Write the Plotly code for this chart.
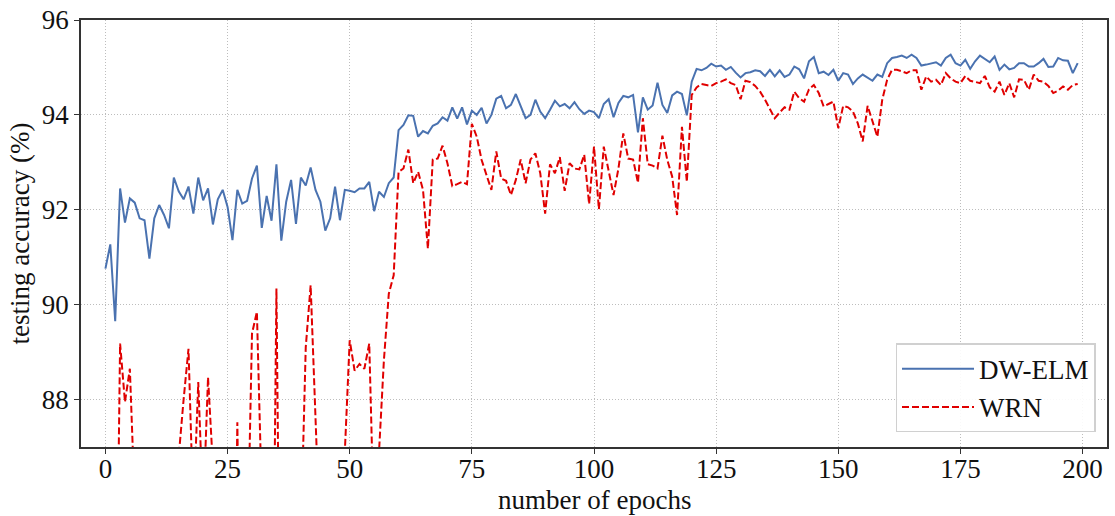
import plotly.graph_objects as go

epochs = list(range(200))

dw_elm = [
    90.76, 91.27, 89.65, 92.45, 91.73, 92.24, 92.15, 91.82, 91.78, 90.97,
    91.82, 92.10, 91.89, 91.61, 92.68, 92.39, 92.22, 92.49, 91.92, 92.68,
    92.20, 92.45, 91.69, 92.22, 92.42, 92.06, 91.36, 92.42, 92.13, 92.19,
    92.66, 92.93, 91.62, 92.29, 91.77, 92.96, 91.35, 92.17, 92.63, 91.70,
    92.68, 92.51, 92.89, 92.42, 92.17, 91.56, 91.82, 92.49, 91.78, 92.42,
    92.40, 92.37, 92.45, 92.45, 92.59, 91.97, 92.38, 92.27, 92.56, 92.68,
    93.68, 93.79, 93.99, 93.98, 93.54, 93.66, 93.61, 93.77, 93.82, 93.95,
    93.88, 94.16, 93.92, 94.16, 93.80, 94.09, 94.00, 94.15, 93.82, 94.00,
    94.34, 94.40, 94.14, 94.21, 94.44, 94.19, 93.93, 94.00, 94.32, 94.07,
    93.93, 94.11, 94.30, 94.18, 94.23, 94.14, 94.27, 94.12, 94.02, 94.09,
    94.06, 93.93, 94.23, 94.33, 93.95, 94.25, 94.40, 94.37, 94.42, 93.63,
    94.37, 94.11, 94.20, 94.68, 94.21, 94.04, 94.41, 94.49, 94.44, 93.99,
    94.70, 94.97, 94.94, 94.99, 95.08, 95.02, 95.04, 94.95, 95.01, 94.89,
    94.79, 94.88, 94.90, 94.94, 94.92, 94.82, 94.95, 94.81, 94.94, 94.80,
    94.85, 95.02, 94.96, 94.77, 95.13, 95.22, 94.88, 94.91, 94.84, 94.95,
    94.72, 94.88, 94.85, 94.65, 94.77, 94.85, 94.79, 94.72, 94.85, 94.80,
    95.09, 95.20, 95.22, 95.25, 95.20, 95.27, 95.20, 95.04, 95.06, 95.08,
    95.11, 95.04, 95.20, 95.27, 95.09, 95.04, 95.16, 94.97, 95.13, 95.25,
    95.18, 95.11, 95.23, 94.95, 95.06, 94.96, 94.99, 95.09, 95.09, 95.02,
    95.02, 95.09, 95.18, 95.01, 95.02, 95.20, 95.15, 95.14, 94.88, 95.09,
]

wrn = [
    84.00, 82.00, 81.00, 89.18, 87.95, 88.65, 85.10, 83.00, 82.00, 80.00,
    81.00, 82.00, 80.00, 83.00, 84.00, 86.80, 88.00, 89.07, 85.60, 88.37,
    85.60, 88.47, 86.60, 84.00, 82.00, 83.00, 80.00, 87.52, 80.00, 84.40,
    89.39, 89.85, 82.80, 82.00, 80.00, 90.34, 80.00, 83.00, 84.00, 84.00,
    85.10, 89.10, 90.41, 86.50, 84.00, 82.00, 83.00, 83.00, 84.00, 86.90,
    89.25, 88.61, 88.75, 88.65, 89.18, 85.20, 86.90, 88.83, 90.23, 90.62,
    92.80, 92.87, 93.27, 92.56, 92.80, 92.42, 91.18, 93.06, 93.08, 93.35,
    92.98, 92.50, 92.54, 92.59, 92.54, 93.81, 93.54, 93.05, 92.73, 92.42,
    93.23, 92.66, 92.61, 92.31, 92.63, 93.06, 92.56, 93.06, 93.19, 92.77,
    91.92, 92.96, 92.77, 93.11, 92.40, 92.98, 92.87, 92.85, 93.16, 92.12,
    93.33, 92.01, 93.33, 92.80, 92.31, 92.87, 93.61, 93.08, 93.06, 92.57,
    93.93, 92.96, 92.93, 92.87, 93.56, 93.05, 92.70, 91.89, 93.75, 92.59,
    94.42, 94.58, 94.65, 94.63, 94.61, 94.67, 94.70, 94.75, 94.67, 94.63,
    94.33, 94.72, 94.69, 94.61, 94.49, 94.32, 94.11, 93.93, 94.05, 94.16,
    94.11, 94.49, 94.35, 94.28, 94.54, 94.63, 94.46, 94.18, 94.23, 94.28,
    93.72, 94.19, 94.16, 94.07, 93.82, 93.44, 94.19, 93.86, 93.54, 94.32,
    94.74, 94.95, 94.95, 94.92, 94.88, 94.94, 94.94, 94.53, 94.81, 94.70,
    94.74, 94.63, 94.88, 94.77, 94.70, 94.67, 94.82, 94.72, 94.70, 94.67,
    94.82, 94.58, 94.49, 94.70, 94.42, 94.67, 94.37, 94.75, 94.74, 94.53,
    94.85, 94.72, 94.70, 94.61, 94.46, 94.51, 94.60, 94.53, 94.63, 94.65,
]

x_ticks = [0, 25, 50, 75, 100, 125, 150, 175, 200]
y_ticks = [88, 90, 92, 94, 96]
x_title = "number of epochs"
y_title = "testing accuracy (%)"

FONT = "Liberation Serif, Times New Roman, serif"

fig = go.Figure()
fig.add_trace(go.Scatter(
    x=epochs, y=dw_elm, mode="lines", name="DW-ELM", legendgroup="a",
    line=dict(color="#4a72b0", width=2.0),
))
fig.add_trace(go.Scatter(
    x=epochs, y=wrn, mode="lines", name="WRN", legendgroup="b",
    line=dict(color="#e00000", width=2.0, dash="7px,3px"),
))

axis_common = dict(
    showline=True, linecolor="#333333", linewidth=1.5, mirror=True,
    ticks="outside", ticklen=5, tickwidth=1.2, tickcolor="#333333",
    showgrid=True, gridcolor="#bdbdbd", gridwidth=1, griddash="1px,2px",
    zeroline=False, automargin=False,
    tickfont=dict(family=FONT, size=27, color="#111111"),
)

fig.update_layout(
    width=1115, height=516,
    margin=dict(l=81, r=8, t=20, b=69),
    paper_bgcolor="white", plot_bgcolor="white",
    font=dict(family=FONT, color="#111111"),
    xaxis=dict(
        range=[-5, 205], tickvals=x_ticks, ticklabelstandoff=-8,
        **axis_common,
    ),
    yaxis=dict(
        range=[87.0, 96.0], tickvals=y_ticks,
        title=dict(text=y_title, font=dict(family=FONT, size=27), standoff=4),
        **axis_common,
    ),
    legend=dict(
        x=0.989, y=0.034, xanchor="right", yanchor="bottom",
        bgcolor="rgba(255,255,255,0.9)", bordercolor="#d0d0d0", borderwidth=1.3,
        font=dict(family=FONT, size=27, color="#111111"),
        itemwidth=72, tracegroupgap=0,
    ),
    annotations=[dict(
        text=x_title, xref="paper", yref="paper", x=0.5, y=-0.124,
        xanchor="center", yanchor="middle", showarrow=False,
        font=dict(family=FONT, size=27, color="#111111"),
    )],
    showlegend=True,
)

fig.write_html("out.html")
